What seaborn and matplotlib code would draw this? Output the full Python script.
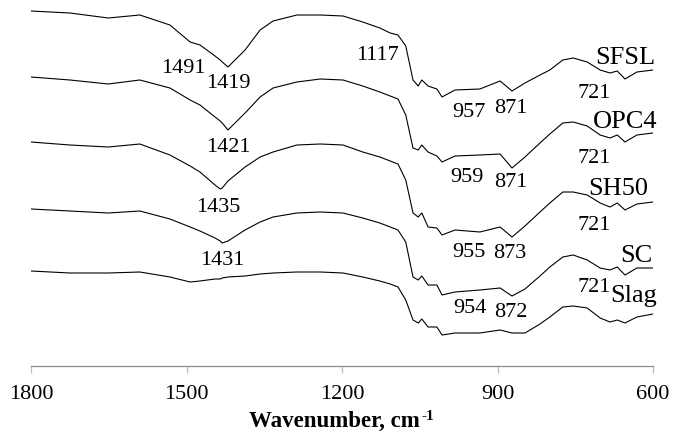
import matplotlib
matplotlib.use("Agg")
import matplotlib.pyplot as plt
import numpy as np
import pandas as pd
import seaborn as sns

# ---- data ----
wavenumber = [1800, 1725, 1651, 1590, 1532, 1493, 1474, 1445, 1435, 1431,
              1420, 1387, 1358, 1333, 1287, 1242, 1198, 1160, 1127, 1107,
              1092, 1077, 1063, 1053, 1046, 1034, 1017, 1007, 982, 934,
              895, 872, 847, 818, 799, 774, 754, 727, 702, 683,
              669, 654, 631, 600]

samples = ["SFSL", "OPC4", "SH50", "SC", "Slag"]

sfsl = [355, 353, 348, 351, 341, 324, 321, 310, 306, 304,
        299, 316, 336, 345, 351, 351, 350, 344, 338, 333,
        331, 320, 286, 280, 286, 280, 277, 269, 276, 277,
        285, 275, 283, 291, 296, 306, 308, 304, 296, 293,
        295, 287, 294, 296]
opc4 = [289, 286, 282, 286, 278, 266, 261, 249, 245, 243,
        236, 253, 269, 278, 284, 287, 286, 280, 274, 270,
        267, 251, 218, 216, 221, 214, 210, 204, 210, 211,
        212, 198, 209, 223, 232, 243, 244, 240, 231, 228,
        231, 224, 231, 233]
sh50 = [224, 221, 219, 222, 211, 200, 194, 181, 177, 178,
        185, 199, 209, 214, 221, 222, 221, 214, 209, 205,
        202, 186, 153, 149, 153, 139, 138, 131, 136, 134,
        139, 129, 140, 154, 163, 174, 174, 171, 163, 159,
        163, 156, 162, 164]
sc = [157, 155, 153, 155, 147, 139, 135, 128, 125, 123,
      125, 136, 144, 149, 153, 154, 153, 148, 143, 139,
      136, 124, 89, 86, 90, 81, 81, 71, 74, 76,
      78, 70, 77, 90, 99, 109, 111, 106, 98, 96,
      99, 91, 98, 98]
slag = [95, 93, 93, 94, 89, 84, 85, 87, 87, 88,
        89, 90, 92, 93, 94, 94, 93, 89, 85, 82,
        79, 66, 46, 43, 47, 39, 39, 31, 33, 33,
        36, 33, 33, 42, 49, 59, 60, 58, 48, 44,
        46, 43, 49, 52]

x_ticks = [1800, 1500, 1200, 900, 600]

# peak annotations: (text, wavenumber, transmittance at text baseline)
peak_labels = [
    ("1491", 1507, 293), ("1419", 1420, 278), ("1117", 1132, 306),
    ("957", 955, 249), ("871", 874, 253), ("721", 714, 268),
    ("1421", 1420, 214), ("959", 959, 184), ("871", 874, 179), ("721", 714, 203),
    ("1435", 1439, 154), ("955", 955, 109), ("873", 876, 108), ("721", 714, 136),
    ("1431", 1431, 101), ("954", 953, 53), ("872", 874, 49), ("721", 714, 74),
]
# sample name labels: (text, right-edge wavenumber, baseline)
name_labels = [
    ("SFSL", 596, 302), ("OPC4", 592, 238), ("SH50", 610, 171),
    ("SC", 600, 104), ("Slag", 592, 64),
]

# ---- build long-form table ----
series = {"SFSL": sfsl, "OPC4": opc4, "SH50": sh50, "SC": sc, "Slag": slag}
df = pd.concat(
    [pd.DataFrame({"wavenumber": wavenumber, "transmittance": v, "sample": k})
     for k, v in series.items()],
    ignore_index=True,
)

sns.set_theme(style="white")
plt.rcParams["font.family"] = ["Liberation Serif", "DejaVu Serif"]

W, H = 674, 438
fig = plt.figure(figsize=(W / 100, H / 100), dpi=100)
ax = fig.add_axes([31 / W, 72 / H, 622 / W, 366 / H])

sns.lineplot(data=df, x="wavenumber", y="transmittance", hue="sample",
             hue_order=samples, palette=["black"] * len(samples),
             linewidth=0.8, legend=False, sort=False, estimator=None, ax=ax)

ax.set_xlim(1800, 600)
ax.set_ylim(0, 366)
ax.set_xticks(x_ticks)
ax.set_xticklabels([str(t) for t in x_ticks])
ax.set_yticks([])
ax.set_ylabel("")
ax.set_xlabel("")
for s in ["top", "left", "right"]:
    ax.spines[s].set_visible(False)
ax.spines["bottom"].set_color("#8c8c8c")
ax.spines["bottom"].set_linewidth(0.9)
ax.tick_params(axis="x", direction="out", length=5, width=0.9,
               color="#bdbdbd", labelsize=16, labelcolor="black", pad=9,
               bottom=True)

for txt, xw, yv in peak_labels:
    ax.text(xw, yv, txt, ha="center", va="baseline", fontsize=16,
            color="black")
for txt, xw, yv in name_labels:
    ax.text(xw, yv, txt, ha="right", va="baseline", fontsize=19,
            color="black", clip_on=False)

# x-axis title with a small raised "-1"
renderer = fig.canvas.get_renderer()
main = fig.text(0, 0, "Wavenumber, cm", fontsize=16.5, fontweight="bold",
                va="baseline", ha="left", color="black")
sup = fig.text(0, 0, "-1", fontsize=11, fontweight="bold",
               va="baseline", ha="left", color="black")
w1 = main.get_window_extent(renderer).width
w2 = sup.get_window_extent(renderer).width
x0 = 341 - (w1 + w2) / 2
main.set_position((x0 / W, (H - 427) / H))
sup.set_position(((x0 + w1 + 1) / W, (H - 420) / H))

fig.savefig("out.png", dpi=100)
